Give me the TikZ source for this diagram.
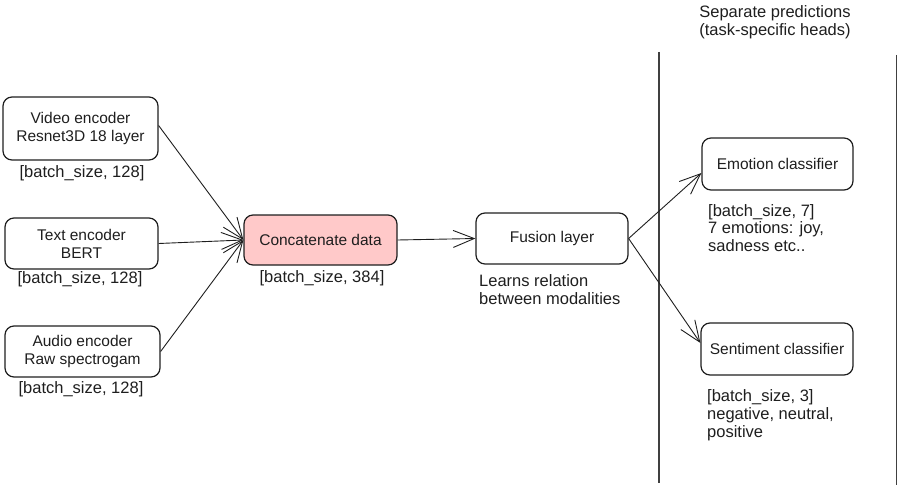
\documentclass[tikz,border=0pt]{standalone}
\usepackage{fontspec}
\setmainfont{Liberation Sans}
\usetikzlibrary{arrows.meta}
\definecolor{ink}{HTML}{1E1E1E}
\definecolor{pinkfill}{HTML}{FFC9C9}
\begin{document}
\begin{tikzpicture}[x=1pt,y=-1pt,
  box/.style={draw=ink, line width=1.2pt, rounded corners=9pt, inner sep=0pt, align=center, text=ink, font=\fontsize{15.5}{18}\selectfont},
  lbl/.style={inner sep=0pt, text=ink, font=\fontsize{16.5}{17.8}\selectfont, align=left},
  conn/.style={draw=ink, line width=0.9pt, -{Straight Barb[length=21pt,width=17pt,line width=0.9pt]}},
  divider/.style={draw=ink!85, line width=1.2pt}
]
\useasboundingbox (0,0) rectangle (905,495);
% encoders
\node[box, minimum width=155pt, minimum height=63pt] (video) at (80.5,128.5) {Video encoder\\Resnet3D 18 layer};
\node[box, minimum width=153pt, minimum height=51pt] (text) at (81.5,243.5) {Text encoder\\BERT};
\node[box, minimum width=155pt, minimum height=51pt] (audio) at (82.5,351.5) {Audio encoder\\Raw spectrogam};
\node[lbl] (vlbl) at (82,173) {[batch\_size, 128]};
\node[lbl] (tlbl) at (80,279) {[batch\_size, 128]};
\node[lbl] (albl) at (81,389) {[batch\_size, 128]};
% concat and fusion
\node[box, fill=pinkfill, minimum width=153pt, minimum height=50pt] (concat) at (320.5,240) {Concatenate data};
\node[lbl] (clbl) at (322,278) {[batch\_size, 384]};
\node[box, minimum width=152pt, minimum height=51pt] (fusion) at (552,238.5) {Fusion layer};
\node[lbl, anchor=west] (flbl) at (479,290) {Learns relation\\between modalities};
% heads
\node[box, minimum width=151pt, minimum height=52pt] (emotion) at (777.5,164) {Emotion classifier};
\node[lbl, anchor=west] (elbl) at (708,228) {[batch\_size, 7]\\7 emotions: joy,\\sadness etc..};
\node[box, minimum width=152pt, minimum height=52pt] (sentiment) at (777,349) {Sentiment classifier};
\node[lbl, anchor=west] (slbl) at (707,415) {[batch\_size, 3]\\negative, neutral,\\positive};
\node[lbl, align=center] (title) at (775,22) {Separate predictions\\(task-specific heads)};
% dividers
\draw[divider] (659,52) -- (659,483);
\draw[divider] (896.5,55) -- (896.5,485);
% connectors
\draw[conn] ([yshift=3pt]video.east) -- (concat.west);
\draw[conn] (text.east) -- (concat.west);
\draw[conn] (audio.east) -- (concat.west);
\draw[conn] (concat.east) -- (fusion.west);
\draw[conn] (fusion.east) -- ([yshift=-9pt]emotion.west);
\draw[conn] (fusion.east) -- ([yshift=6pt]sentiment.west);
\end{tikzpicture}
\end{document}
